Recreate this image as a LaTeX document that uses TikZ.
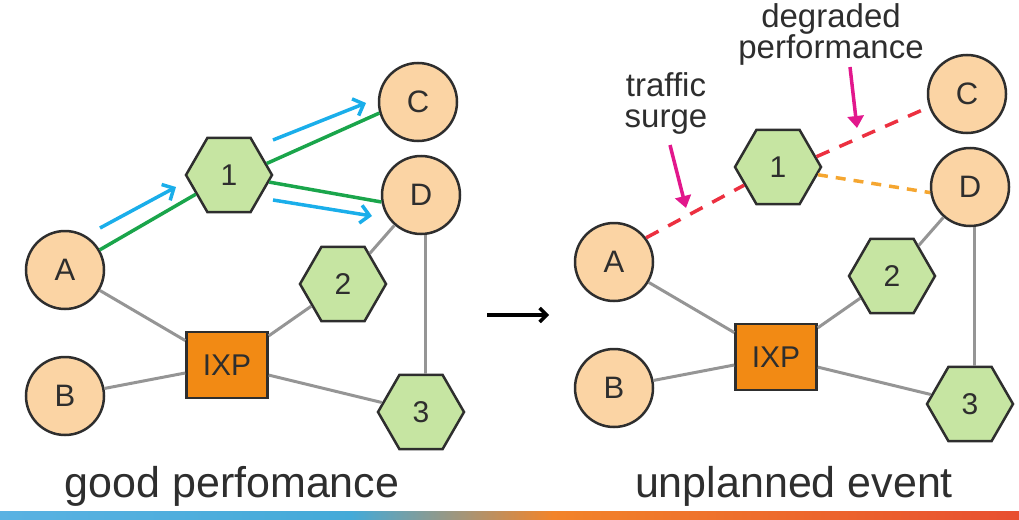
\documentclass[tikz,border=0pt]{standalone}
\usepackage{fontspec}
\setmainfont{Liberation Sans}
\usetikzlibrary{shapes.geometric,arrows.meta}
\definecolor{peach}{HTML}{FBD4A4}
\definecolor{hexgreen}{HTML}{C6E5A2}
\definecolor{ixporange}{HTML}{F28A14}
\definecolor{outline}{HTML}{2E2E2E}
\definecolor{txt}{HTML}{2E2E2E}
\definecolor{edgegrey}{HTML}{959595}
\definecolor{pathgreen}{HTML}{1AA54B}
\definecolor{flowblue}{HTML}{1AAEEA}
\definecolor{badred}{HTML}{EC3040}
\definecolor{warnorange}{HTML}{F5A630}
\definecolor{callout}{HTML}{E2178C}
\definecolor{barA}{HTML}{5AB2E2}
\definecolor{barB}{HTML}{44AAD8}
\definecolor{barC}{HTML}{F2842A}
\definecolor{barD}{HTML}{E84F30}
\begin{document}
\begin{tikzpicture}[x=1pt,y=-1pt,
  host/.style={circle, draw=outline, line width=2.5pt, fill=peach, minimum size=78pt, inner sep=0pt, text=txt, font=\fontsize{31}{31}\selectfont},
  asnode/.style={regular polygon, regular polygon sides=6, draw=outline, line width=2.5pt, fill=hexgreen, minimum size=86pt, inner sep=0pt, text=txt, font=\fontsize{30}{30}\selectfont},
  ixpbox/.style={rectangle, draw=outline, line width=2.5pt, fill=ixporange, minimum width=81pt, minimum height=66pt, inner sep=0pt, text=txt, font=\fontsize{30}{30}\selectfont},
  link/.style={draw=edgegrey, line width=3pt},
  goodpath/.style={draw=pathgreen, line width=3.5pt},
  flow/.style={draw=flowblue, line width=3.5pt, -{Straight Barb[length=9pt,width=18pt]}},
  surgepath/.style={draw=badred, line width=3.5pt, dash pattern=on 14pt off 11pt},
  slowpath/.style={draw=warnorange, line width=3.5pt, dash pattern=on 10pt off 8pt},
  note/.style={draw=callout, line width=3.5pt, -{Triangle[length=12pt,width=16pt]}},
  caption/.style={text=txt, font=\fontsize{43}{43}\selectfont, inner sep=0pt, anchor=base},
  notetext/.style={text=txt, font=\fontsize{33}{31}\selectfont, align=center, inner sep=0pt}
]
\useasboundingbox (0,0) rectangle (1019,519);

% ---------- left panel ----------
\node[host] (A) at (65,270) {A};
\node[host] (B) at (65,396) {B};
\node[host] (C) at (418,102) {C};
\node[host] (D) at (421,195) {D};
\node[asnode] (n1) at (229,175) {1};
\node[asnode] (n2) at (343,284) {2};
\node[asnode] (n3) at (421,412) {3};
\node[ixpbox] (ixp) at (227,365) {IXP};

\draw[link] (A) -- (ixp);
\draw[link] (B) -- (ixp);
\draw[link] (ixp) -- (n2);
\draw[link] (ixp) -- (n3);
\draw[link] (n2) -- (D);
\draw[link] (D.-84) -- (D.-84 |- n3.north);

\draw[goodpath] (A) -- (n1);
\draw[goodpath] (n1.17) -- (C.196);
\draw[goodpath] (n1.-10) -- (D.190);

\coordinate (b1s) at (100,228);
\coordinate (b1e) at (176,187);
\coordinate (b2s) at (273,140);
\coordinate (b2e) at (366,103);
\coordinate (b3s) at (273,200);
\coordinate (b3e) at (372,216);
\draw[flow] (b1s) -- (b1e);
\draw[flow] (b2s) -- (b2e);
\draw[flow] (b3s) -- (b3e);

% ---------- right panel ----------
\begin{scope}[shift={(549,-8)}, name prefix=r-]
\node[host] (A) at (65,270) {A};
\node[host] (B) at (65,396) {B};
\node[host] (C) at (418,102) {C};
\node[host] (D) at (421,195) {D};
\node[asnode] (n1) at (229,175) {1};
\node[asnode] (n2) at (343,284) {2};
\node[asnode] (n3) at (421,412) {3};
\node[ixpbox] (ixp) at (227,365) {IXP};

\draw[link] (A) -- (ixp);
\draw[link] (B) -- (ixp);
\draw[link] (ixp) -- (n2);
\draw[link] (ixp) -- (n3);
\draw[link] (n2) -- (D);
\draw[link] (D.-84) -- (D.-84 |- n3.north);

\draw[surgepath] (A.37) -- (n1);
\draw[surgepath] (n1.15) -- (C.199);
\draw[slowpath] (n1.-11) -- (D.188);
\end{scope}

% ---------- annotations ----------
\node[notetext] (traffic) at (666,103) {traffic\\surge};
\node[notetext] (degraded) at (831,34) {degraded\\performance};
\coordinate (t1s) at (670,145);
\coordinate (t1e) at (686,208);
\coordinate (t2s) at (850,67);
\coordinate (t2e) at (857,128);
\draw[note] (t1s) -- (t1e);
\draw[note] (t2s) -- (t2e);

\coordinate (ar1) at (487,315);
\coordinate (ar2) at (549,315);
\draw[draw=black, line width=3.5pt, -{Straight Barb[length=7pt,width=14pt]}] (ar1) -- (ar2);

\node[caption] (good) at (232,497) {good perfomance};
\node[caption] (event) at (794,497) {unplanned event};

% ---------- colour bar ----------
\shade[left color=barA, right color=barB] (0,511) rectangle (352,519);
\shade[left color=barB, right color=barC] (351,511) rectangle (553,519);
\shade[left color=barC, right color=barD] (552,511) rectangle (1019,519);
\end{tikzpicture}
\end{document}
